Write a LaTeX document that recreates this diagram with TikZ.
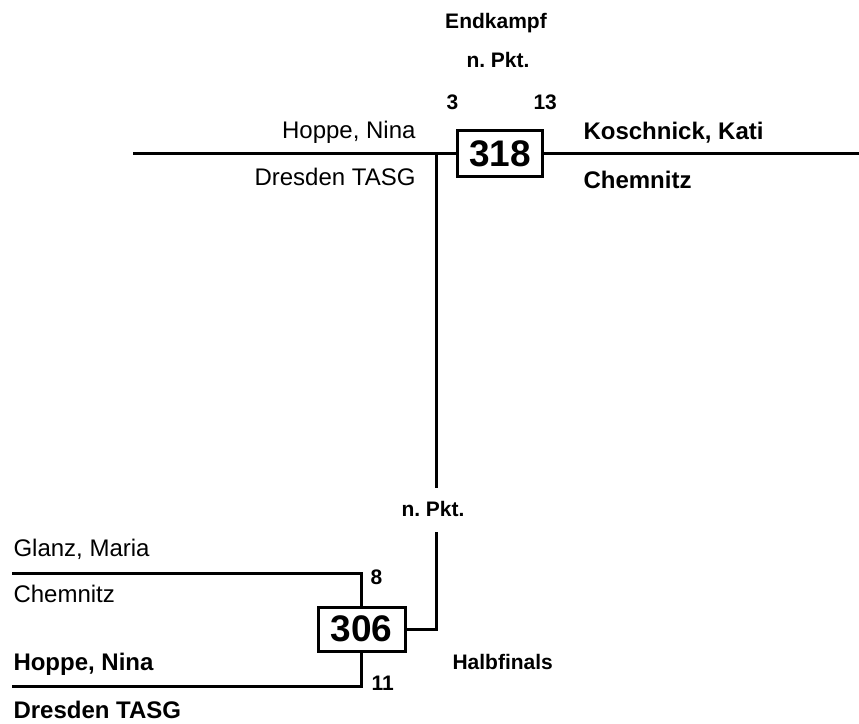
\documentclass[tikz,border=0pt]{standalone}
\usepackage{fontspec}
\setmainfont{Liberation Sans}
\frenchspacing
\begin{document}
\begin{tikzpicture}[x=1pt,y=-1pt,line width=3pt]
        \tikzstyle{every node}=[inner sep=0pt]
        \tikzstyle{player}=[font=\fontsize{24}{28}\selectfont]
        \tikzstyle{winner}=[font=\fontsize{24}{28}\selectfont\bfseries]
        \tikzstyle{smalllabel}=[font=\fontsize{21}{24}\selectfont\bfseries]
        \tikzstyle{matchbox}=[draw,fill=white,minimum width=85pt,minimum height=46pt,font=\fontsize{37}{40}\selectfont\bfseries]
        \useasboundingbox (0,0) rectangle (859,723);
        % Endkampf
        \node[matchbox] (m318) at (500,153.5) {318};
        \node[smalllabel,anchor=base] (final) at (496,28) {Endkampf};
        \node[smalllabel,anchor=base] (pkt318) at (498,67) {n. Pkt.};
        \node[smalllabel,anchor=base west] (s318a) at (445,109) {3};
        \node[smalllabel,anchor=base west] (s318b) at (532,109) {13};
        \node[player,anchor=base east] (hoppeA) at (417,138) {Hoppe, Nina};
        \node[player,anchor=base east] (dresdenA) at (417,185) {Dresden TASG};
        \node[winner,anchor=base west] (kati) at (582,139) {Koschnick, Kati};
        \node[winner,anchor=base west] (chemnitzA) at (582,188) {Chemnitz};
        \coordinate (lineL) at (133,153.5);
        \coordinate (lineR) at (859,153.5);
        \coordinate (join) at (436,153.5);
        \coordinate (gapT) at (436,488);
        \coordinate (gapB) at (436,532);
        \draw (lineL) -- (m318.west) (m318.east) -- (lineR);
        \draw (join) -- (gapT);
        % Halbfinals
        \node[matchbox,minimum width=87pt,minimum height=44pt] (m306) at (361.5,629) {306};
        \node[smalllabel,anchor=base] (pkt306) at (433,516) {n. Pkt.};
        \node[smalllabel,anchor=base west] (semi) at (451,669) {Halbfinals};
        \node[smalllabel,anchor=base west] (s306a) at (369,584) {8};
        \node[smalllabel,anchor=base west] (s306b) at (370,690) {11};
        \node[player,anchor=base west] (glanz) at (12,556) {Glanz, Maria};
        \node[player,anchor=base west] (chemnitzB) at (12,602) {Chemnitz};
        \node[winner,anchor=base west] (hoppeB) at (12,670) {Hoppe, Nina};
        \node[winner,anchor=base west] (dresdenB) at (12,718) {Dresden TASG};
        \coordinate (topL) at (12,573);
        \coordinate (botL) at (12,686);
        \draw (topL) -| (m306.north);
        \draw (botL) -| (m306.south);
        \draw (gapB) |- (m306.east);
    \end{tikzpicture}
\end{document}
